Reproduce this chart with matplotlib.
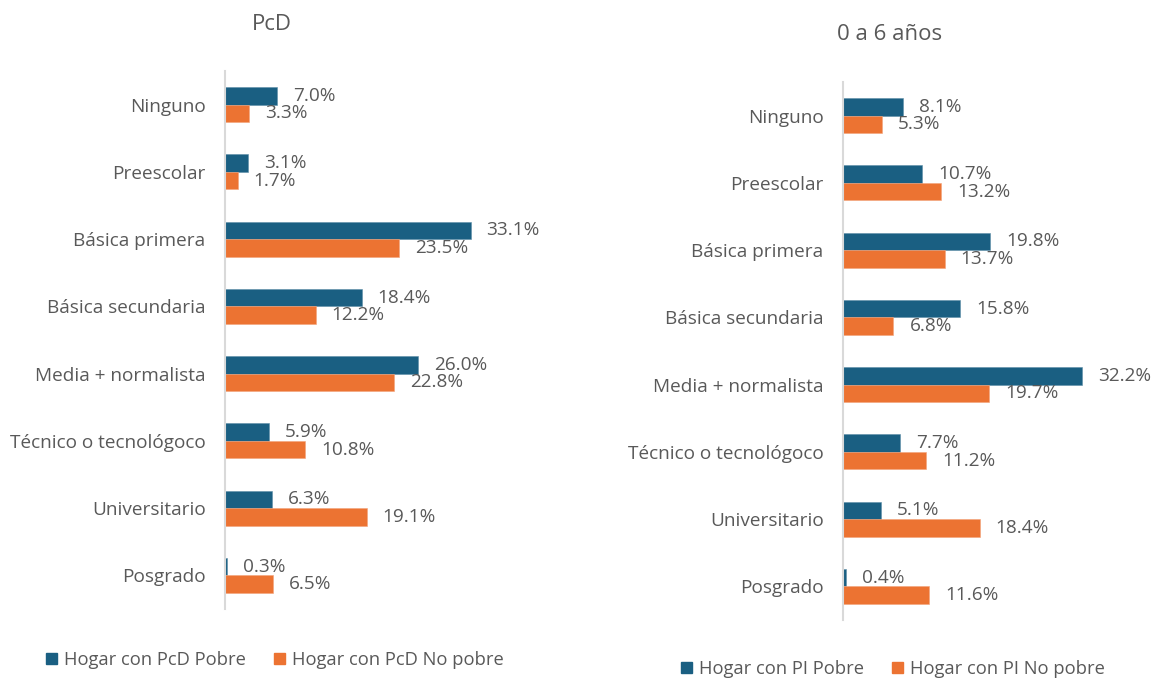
import matplotlib
matplotlib.use("Agg")
import matplotlib.pyplot as plt
from matplotlib.patches import Patch
import numpy as np

categories = ["Ninguno", "Preescolar", "Básica primera", "Básica secundaria",
              "Media + normalista", "Técnico o tecnológoco", "Universitario", "Posgrado"]
pcd_pobre = [7.0, 3.1, 33.1, 18.4, 26.0, 5.9, 6.3, 0.3]
pcd_no_pobre = [3.3, 1.7, 23.5, 12.2, 22.8, 10.8, 19.1, 6.5]
pi_pobre = [8.1, 10.7, 19.8, 15.8, 32.2, 7.7, 5.1, 0.4]
pi_no_pobre = [5.3, 13.2, 13.7, 6.8, 19.7, 11.2, 18.4, 11.6]

BLUE = "#1a5f82"
ORANGE = "#ec7332"
TXT = "#595959"
FONT = "Open Sans"
plt.rcParams['font.family'] = [FONT, 'DejaVu Sans']

W, H = 1153, 679
fig = plt.figure(figsize=(W / 100, H / 100), dpi=100)


def panel(left_px, top_px, bottom_px, xmax, s1, s2, title, title_xy, leg_labels, leg_xy):
    px_per = 7.42
    width_px = xmax * px_per
    ax = fig.add_axes([left_px / W, (H - bottom_px) / H, width_px / W, (bottom_px - top_px) / H])
    y = np.arange(len(categories))
    h = 0.26
    b1 = ax.barh(y - h / 2, s1, height=h, color=BLUE, edgecolor="#5f8fa8", linewidth=0.4)
    b2 = ax.barh(y + h / 2, s2, height=h, color=ORANGE, edgecolor="#f3a37a", linewidth=0.4)
    for bars, vals in ((b1, s1), (b2, s2)):
        for rect, v in zip(bars, vals):
            ax.annotate(f"{v:.1f}%", xy=(rect.get_width(), rect.get_y() + rect.get_height() / 2),
                        xytext=(11.5, 0), textcoords="offset points", ha="left", va="center",
                        fontsize=13.7, color=TXT, annotation_clip=False)
    ax.set_xlim(0, xmax)
    ax.set_ylim(len(categories) - 0.5, -0.5)
    ax.set_yticks(y)
    ax.set_yticklabels(categories, fontsize=13.7, color=TXT)
    ax.tick_params(axis="y", length=0, pad=14)
    ax.set_xticks([])
    for s in ("top", "right", "bottom"):
        ax.spines[s].set_visible(False)
    ax.spines["left"].set_color("#d9d9d9")
    ax.spines["left"].set_linewidth(1.5)
    fig.text(title_xy[0] / W, 1 - title_xy[1] / H, title, ha="center", va="center",
             fontsize=16, color=TXT)
    handles = [Patch(color=BLUE, label=leg_labels[0]), Patch(color=ORANGE, label=leg_labels[1])]
    fig.legend(handles=handles, loc="center", bbox_to_anchor=(leg_xy[0] / W, 1 - leg_xy[1] / H),
               ncol=2, frameon=False, fontsize=13.2, labelcolor=TXT, handlelength=0.6,
               handleheight=0.6, handletextpad=0.38, columnspacing=1.53, borderpad=0.2)
    return ax


panel(225, 71, 609, 45, pcd_pobre, pcd_no_pobre, "PcD", (272, 24),
      ["Hogar con PcD Pobre", "Hogar con PcD No pobre"], (275, 660))
panel(843, 82, 620, 42, pi_pobre, pi_no_pobre, "0 a 6 años", (890, 35),
      ["Hogar con PI Pobre", "Hogar con PI No pobre"], (893, 669))

fig.savefig("out.png", dpi=100)
